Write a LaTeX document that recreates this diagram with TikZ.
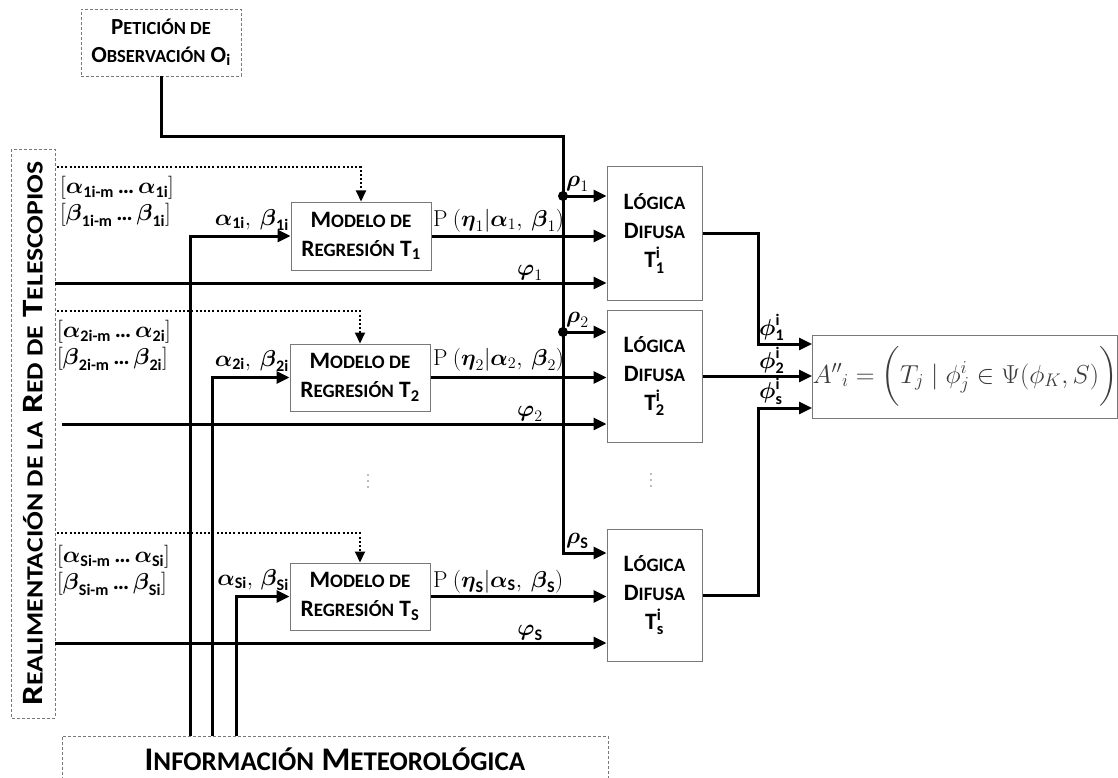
\RequirePackage{fix-cm}
\documentclass[tikz,border=0pt]{standalone}
\usepackage{amsmath}
\usepackage{graphicx}
\usepackage[no-math]{fontspec}
\setmainfont{Carlito}
\usetikzlibrary{arrows.meta}
\newcommand\scx[2][19]{{\fontsize{#1}{#1}\selectfont #2}}
\newcommand\midfont{\fontsize{23.5}{29}\bfseries\selectfont}
\newcommand\mfont{\fontsize{23}{26}\bfseries\selectfont}
\newcommand\eqfont{\fontsize{26}{28}\selectfont}
\definecolor{boxgray}{RGB}{120,120,120}
\definecolor{eqgray}{RGB}{60,60,60}
\tikzset{
  conn/.style={line width=3pt, -{Triangle[length=13pt,width=12pt]}},
  dotarr/.style={line width=2pt, dash pattern=on 2pt off 2.2pt, -{Triangle[length=11pt,width=10pt]}},
  box/.style={draw=boxgray, line width=1pt, fill=white, align=center, inner sep=0pt},
  dbox/.style={draw=boxgray, dash pattern=on 3pt off 2pt, line width=0.9pt, align=center, inner sep=0pt},
  lbl/.style={inner sep=0pt, font=\mfont},
  vdot/.style={fill=boxgray},
}
\begin{document}
\begin{tikzpicture}[x=1pt,y=-1pt]
\useasboundingbox (0,0) rectangle (1118,778);

% ---------- boxes ----------
\node[dbox, minimum width=160pt, minimum height=67pt, font=\fontsize{23}{28}\bfseries\selectfont] (pet) at (161,42.5)
  {P\scx[18.5]{ETICIÓN DE}\\O\scx[18.5]{BSERVACIÓN} $\text{O}_{\text{i}}$};
\node[dbox, rotate=90, minimum width=569pt, minimum height=44pt, font=\fontsize{29.5}{30}\bfseries\selectfont] (fb) at (33,433.5)
  {\scalebox{1.19}[1]{R\scx[23.3]{EALIMENTACIÓN DE LA} R\scx[23.3]{ED DE} T\scx[23.3]{ELESCOPIOS}}};
\draw[boxgray, dash pattern=on 3pt off 2pt, line width=0.9pt] (62,790) |- (608,736) -- (608,790);
\node[inner sep=0pt, font=\fontsize{33}{35}\bfseries\selectfont, minimum width=546pt] (met) at (335,759)
  {I\scx[27]{NFORMACIÓN} M\scx[27]{ETEOROLÓGICA}};
\coordinate (mettop) at (335,736);

\node[box, minimum width=140pt, minimum height=68pt, font=\midfont] (m1) at (361,236)
  {M\scx{ODELO DE}\\R\scx{EGRESIÓN} $\text{T}_{\text{1}}$};
\node[box, minimum width=140pt, minimum height=67pt, font=\midfont] (m2) at (360,377.5)
  {M\scx{ODELO DE}\\R\scx{EGRESIÓN} $\text{T}_{\text{2}}$};
\node[box, minimum width=140pt, minimum height=67pt, font=\midfont] (mS) at (360,596.5)
  {M\scx{ODELO DE}\\R\scx{EGRESIÓN} $\text{T}_{\text{S}}$};

\node[box, minimum width=95pt, minimum height=133pt, font=\midfont] (f1) at (654.5,233.5)
  {L\scx{ÓGICA}\\D\scx{IFUSA}\\$\text{T}^{\text{i}}_{\text{1}}$};
\node[box, minimum width=95pt, minimum height=132pt, font=\midfont] (f2) at (654.5,376)
  {L\scx{ÓGICA}\\D\scx{IFUSA}\\$\text{T}^{\text{i}}_{\text{2}}$};
\node[box, minimum width=95pt, minimum height=132pt, font=\midfont] (fS) at (654.5,595)
  {L\scx{ÓGICA}\\D\scx{IFUSA}\\$\text{T}^{\text{i}}_{\text{s}}$};

\node[box, minimum width=304pt, minimum height=83pt, font=\eqfont, text=eqgray] (eq) at (965,376.5)
  {${A''}_i = \bigg(T_j \mid \phi^i_j \in \Psi(\phi_K, S)\bigg)$};

% ---------- helper coordinates ----------
\coordinate (tk) at (563,137);
\coordinate (r1) at (563,196);
\coordinate (r2) at (563,332);
\coordinate (rS) at (563,553);
\coordinate (p1) at (55,283);
\coordinate (p2) at (62,424);
\coordinate (pS) at (55,643);
\coordinate (x1) at (190,0);
\coordinate (x2) at (212,0);
\coordinate (x3) at (236,0);
\coordinate (d1) at (57,167);
\coordinate (d2) at (57,311);
\coordinate (dS) at (57,533);
\coordinate (bx) at (758,0);
\coordinate (y1) at (0,344);
\coordinate (y3) at (0,408);

% ---------- connectors ----------
\draw[conn] (pet.south) |- (tk) -- (rS) -- (rS -| fS.west);
\draw[conn] (r1) -- (r1 -| f1.west);
\draw[conn] (r2) -- (r2 -| f2.west);
\fill (r1) circle (5pt);
\fill (r2) circle (5pt);

\draw[conn] (m1.east) -- (m1.east -| f1.west);
\draw[conn] (m2.east) -- (m2.east -| f2.west);
\draw[conn] (mS.east) -- (mS.east -| fS.west);

\draw[conn] (p1) -- (p1 -| f1.west);
\draw[conn] (p2) -- (p2 -| f2.west);
\draw[conn] (pS) -- (pS -| fS.west);

\draw[conn] (mettop -| x1) |- (m1.west);
\draw[conn] (mettop -| x2) |- (m2.west);
\draw[conn] (mettop -| x3) |- (mS.west);

\draw[dotarr] (d1) -| (m1.north);
\draw[dotarr] (d2) -| (m2.north);
\draw[dotarr] (dS) -| (mS.north);

\draw[conn] (f1.east) -| (bx |- y1) -- (eq.west |- y1);
\draw[conn] (f2.east) -- (f2.east -| eq.west);
\draw[conn] (fS.east) -| (bx |- y3) -- (eq.west |- y3);

% ---------- labels ----------
\node[lbl, anchor=west] (la1) at (60,188) {$[\boldsymbol{\alpha}_{\text{1i-m}}\,\text{…}\,\boldsymbol{\alpha}_{\text{1i}}]$};
\node[lbl, anchor=west] (lb1) at (60,215) {$[\boldsymbol{\beta}_{\text{1i-m}}\,\text{…}\,\boldsymbol{\beta}_{\text{1i}}]$};
\node[lbl, anchor=west] (la2) at (57,332) {$[\boldsymbol{\alpha}_{\text{2i-m}}\,\text{…}\,\boldsymbol{\alpha}_{\text{2i}}]$};
\node[lbl, anchor=west] (lb2) at (57,359) {$[\boldsymbol{\beta}_{\text{2i-m}}\,\text{…}\,\boldsymbol{\beta}_{\text{2i}}]$};
\node[lbl, anchor=west] (la3) at (57,557) {$[\boldsymbol{\alpha}_{\text{Si-m}}\,\text{…}\,\boldsymbol{\alpha}_{\text{Si}}]$};
\node[lbl, anchor=west] (lb3) at (57,584) {$[\boldsymbol{\beta}_{\text{Si-m}}\,\text{…}\,\boldsymbol{\beta}_{\text{Si}}]$};

\node[lbl, anchor=south east] (ab1) at (289,231) {$\boldsymbol{\alpha}_{\text{1i}},\ \boldsymbol{\beta}_{\text{1i}}$};
\node[lbl, anchor=south east] (ab2) at (289,372) {$\boldsymbol{\alpha}_{\text{2i}},\ \boldsymbol{\beta}_{\text{2i}}$};
\node[lbl, anchor=south east] (ab3) at (289,591) {$\boldsymbol{\alpha}_{\text{Si}},\,\boldsymbol{\beta}_{\text{Si}}$};

\node[lbl, anchor=south west] (pp1) at (433,232) {$\mathrm{P}\ (\boldsymbol{\eta}_1|\boldsymbol{\alpha}_1,\ \boldsymbol{\beta}_1)$};
\node[lbl, anchor=south west] (pp2) at (433,371) {$\mathrm{P}\ (\boldsymbol{\eta}_2|\boldsymbol{\alpha}_2,\ \boldsymbol{\beta}_2)$};
\node[lbl, anchor=south west] (pp3) at (433,593) {$\mathrm{P}\ (\boldsymbol{\eta}_{\text{S}}|\boldsymbol{\alpha}_{\text{S}},\ \boldsymbol{\beta}_{\text{S}})$};

\node[lbl, anchor=south] (ph1) at (530,281) {$\boldsymbol{\varphi}_1$};
\node[lbl, anchor=south] (ph2) at (530,422) {$\boldsymbol{\varphi}_2$};
\node[lbl, anchor=south] (ph3) at (530,641) {$\boldsymbol{\varphi}_{\text{S}}$};

\node[lbl, anchor=south west] (rh1) at (566,192) {$\boldsymbol{\rho}_1$};
\node[lbl, anchor=south west] (rh2) at (566,328) {$\boldsymbol{\rho}_2$};
\node[lbl, anchor=south west] (rh3) at (566,549) {$\boldsymbol{\rho}_{\text{S}}$};

\node[lbl, anchor=south west] (fi1) at (759,341) {$\boldsymbol{\phi}^{\text{i}}_{\text{1}}$};
\node[lbl, anchor=south west] (fi2) at (759,374) {$\boldsymbol{\phi}^{\text{i}}_{\text{2}}$};
\node[lbl, anchor=south west] (fi3) at (759,405) {$\boldsymbol{\phi}^{\text{i}}_{\text{s}}$};

% vertical ellipses
\foreach \yy in {475,481,487} {
  \fill[vdot] (368,\yy) circle (0.9pt);
  \fill[vdot] (651,\yy-1) circle (0.9pt);
}
\end{tikzpicture}
\end{document}
